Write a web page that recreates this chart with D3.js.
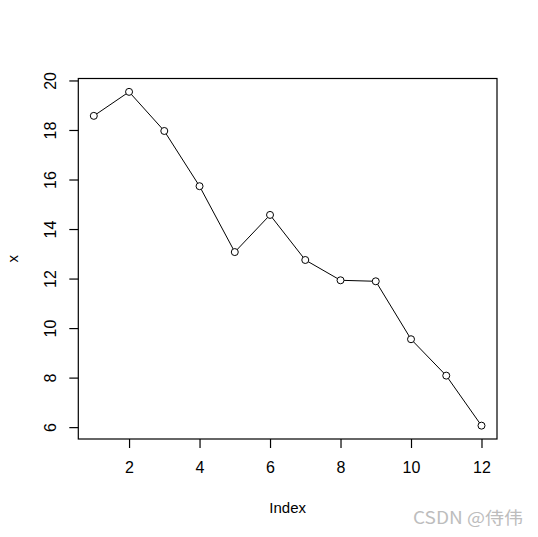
<!DOCTYPE html>
<html><head><meta charset="utf-8">
<script src="https://cdn.jsdelivr.net/npm/d3@7"></script>
<style>body{margin:0;background:#fff}svg{display:block}</style>
</head><body>
<script>
const index = [1,2,3,4,5,6,7,8,9,10,11,12];
const values = [18.57,19.54,17.96,15.73,13.07,14.57,12.75,11.93,11.89,9.55,8.08,6.06];
const xTicks = [2,4,6,8,10,12];
const yTicks = [6,8,10,12,14,16,18,20];

const W = 538, H = 537;
const m = {left:78.3, right:497, top:78.5, bottom:439};
const svg = d3.select("body").append("svg").attr("width",W).attr("height",H);
svg.append("rect").attr("width",W).attr("height",H).attr("fill","#fff");

function rExt(lo,hi){const d=(hi-lo)*0.04;return [lo-d,hi+d];}
const x = d3.scaleLinear().domain(rExt(d3.min(index),d3.max(index))).range([m.left,m.right]);
const y = d3.scaleLinear().domain(rExt(d3.min(values),d3.max(values))).range([m.bottom,m.top]);

const font = "'Liberation Sans', Arial, sans-serif";
const tickFs = "16px", titleFs = "15px";

// box
svg.append("rect").attr("x",m.left).attr("y",m.top).attr("width",m.right-m.left).attr("height",m.bottom-m.top)
  .attr("fill","none").attr("stroke","#000").attr("stroke-width",1.2);

// x axis
const xa = svg.append("g").attr("transform",`translate(0,${m.bottom})`)
  .call(d3.axisBottom(x).tickValues(xTicks).tickSize(9).tickPadding(13.5).tickFormat(d3.format("d")));
xa.select(".domain").remove();
xa.selectAll("line").attr("stroke","#000").attr("stroke-width",1.2);
xa.selectAll("text").attr("font-family",font).attr("font-size",tickFs).attr("fill","#000");

// y axis
const ya = svg.append("g").attr("transform",`translate(${m.left},0)`)
  .call(d3.axisLeft(y).tickValues(yTicks).tickSize(9).tickFormat(d3.format("d")));
ya.select(".domain").remove();
ya.selectAll("line").attr("stroke","#000").attr("stroke-width",1.2);
ya.selectAll("text").attr("font-family",font).attr("font-size",tickFs).attr("fill","#000")
  .attr("x",null).attr("dy",null)
  .attr("text-anchor","middle")
  .attr("transform","translate(-22.8,0) rotate(-90)");

// line
svg.append("path").datum(index.map((d,i)=>[d,values[i]]))
  .attr("d",d3.line().x(d=>x(d[0])).y(d=>y(d[1])))
  .attr("fill","none").attr("stroke","#000").attr("stroke-width",1);

// points
svg.append("g").selectAll("circle").data(index.map((d,i)=>[d,values[i]])).join("circle")
  .attr("cx",d=>x(d[0])).attr("cy",d=>y(d[1])).attr("r",3.5)
  .attr("fill","#fff").attr("stroke","#000").attr("stroke-width",1);

// axis titles
svg.append("text").attr("x",(m.left+m.right)/2).attr("y",513).attr("text-anchor","middle")
  .attr("font-family",font).attr("font-size",titleFs).text("Index");
svg.append("text").attr("transform",`translate(18.3,${(m.top+m.bottom)/2}) rotate(-90)`).attr("text-anchor","middle")
  .attr("font-family",font).attr("font-size",titleFs).text("x");

// watermark
svg.append("text").attr("x",413).attr("y",524).attr("font-family","'Noto Sans CJK SC','Noto Sans',sans-serif")
  .attr("font-size","17px").attr("fill","#bdbdbd").attr("textLength",110).attr("lengthAdjust","spacingAndGlyphs")
  .text("CSDN @侍伟");
</script>
</body></html>
